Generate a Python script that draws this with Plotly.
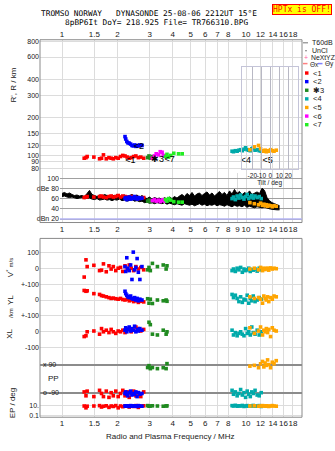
import plotly.graph_objects as go

W, H = 335, 451
def PX(p): return p / W
def PY(p): return 1 - p / H

FONT = "Liberation Sans, Arial, sans-serif"
MONO = "DejaVu Sans Mono, monospace"
GRID = "#DCDCDC"
TXT = "#202020"

# ---------------- axis ticks ----------------
freq_ticks = [1, 1.5, 2, 3, 4, 5, 6, 7, 8, 10, 12, 14, 16, 18]
freq_ticks_mid = [1, 1.5, 2, 3, 4, 5, 6, 7, 8, 9, 10, 12, 14, 16, 18]
rng_ticks = [80, 90, 100, 120, 150, 200, 300, 400, 600, 800]
db_ticks = [100, 80, 60, 40, 20]
db_ticktext = ["100", "dBe 80", "60", "40", "dBn 20"]
tilt_ticks = [-20, -10, 0, 10, 20]

# ---------------- amplitude band (black, T60dB) ----------------
band_f = [1.000, 1.032, 1.065, 1.098, 1.133, 1.169, 1.207, 1.245, 1.285, 1.325,
          1.368, 1.411, 1.456, 1.502, 1.550, 1.599, 1.650, 1.703, 1.757, 1.812,
          1.870, 1.929, 1.991, 2.054, 2.119, 2.187, 2.256, 2.328, 2.402, 2.478,
          2.557, 2.638, 2.722, 2.808, 2.898, 2.990, 3.085, 3.183, 3.284, 3.388,
          3.496, 3.607, 3.721, 3.840, 3.962, 4.087, 4.217, 4.351, 4.490, 4.632,
          4.780, 4.931, 5.088, 5.250, 5.416, 5.588, 5.766, 5.949, 6.138, 6.333,
          6.534, 6.742, 6.956, 7.177, 7.405, 7.640, 7.883, 8.134, 8.392, 8.659,
          8.934, 9.218, 9.511, 9.813, 10.12, 10.45, 10.78, 11.12, 11.48, 11.84,
          12.22, 12.61, 13.01, 13.42, 13.85, 14.29, 14.74, 15.21]
band_hi = [70, 72, 69, 71, 68, 66, 67, 65, 66, 64,
           70, 76, 68, 66, 64, 67, 65, 68, 66, 64,
           67, 65, 68, 66, 63, 67, 64, 66, 68, 65,
           67, 63, 66, 62, 60, 63, 59, 62, 60, 61,
           58, 62, 59, 63, 60, 64, 61, 65, 68, 64,
           70, 66, 72, 65, 69, 71, 66, 70, 73, 67,
           71, 65, 69, 74, 68, 72, 66, 75, 69, 78,
           70, 74, 67, 72, 69, 75, 68, 71, 73, 70,
           80, 76, 62, 56, 52, 50, 48, 46]
band_lo = [64, 65, 63, 62, 63, 61, 60, 61, 62, 60,
           60, 61, 59, 58, 60, 57, 58, 59, 57, 58,
           56, 58, 57, 59, 56, 57, 55, 56, 58, 55,
           56, 54, 55, 52, 53, 51, 52, 50, 52, 51,
           50, 52, 49, 51, 50, 48, 50, 49, 47, 50,
           48, 47, 49, 46, 48, 50, 47, 49, 46, 48,
           47, 49, 46, 48, 47, 45, 48, 46, 44, 47,
           45, 46, 44, 47, 43, 45, 44, 42, 44, 43,
           42, 43, 41, 40, 39, 38, 38, 38]

# ---------------- echo traces ----------------
red_f = [1.32, 1.35, 1.37, 1.49, 1.60, 1.64, 1.68, 1.74, 1.80, 1.85, 1.90, 1.96, 2.02, 2.08, 2.14, 2.20,
         2.26, 2.32, 2.38, 2.45, 2.52, 2.60, 2.68, 2.78]
red_R = [96, 97, 99, 98, 95, 96, 102, 95, 97, 96, 95, 97, 96, 99, 101, 100, 98, 96, 97, 99, 100, 97, 98, 96]
red_dB = [62, 63, 64, 63, 64, 65, 63, 62, 64, 65, 63, 64, 66, 63, 65, 64, 63, 62, 64, 63, 62, 60, 61, 62]
red_V = [-55, 52, 10, 18, -15, -12, 27, -22, 15, -5, 10, -15, 0, 5, -20, 15, -10, 20, 0, -15, 10, -5, 5, -10]
red_YL = [60, 55, 58, 40, 35, 28, 25, 20, 15, 10, 12, 8, 5, 10, 3, 0, 5, -5, 0, -10, -5, -15, -8, -12]
red_XL = [-30, -25, 0, 5, -15, 20, 0, 10, -5, 15, 0, -10, 5, 0, 10, -5, 15, 20, 0, 10, 30, 20, 5, 15]
red_PP = [-85, -110, -80, -115, -75, -95, -115, -80, -120, -90, -110, -80, -115, -95, -75, -110, -85, -120,
          -95, -80, -110, -90, -115, -85]
red_EP = [10, 4, 9, 10, 12, 6, 9, 11, 5, 10, 8, 12, 4, 10, 7, 11, 9, 6, 10, 8, 12, 5, 9, 11]

blue_f = [2.20, 2.22, 2.25, 2.28, 2.32, 2.36, 2.40, 2.44, 2.48, 2.52, 2.56, 2.60, 2.65, 2.72]
blue_R = [142, 136, 130, 127, 126, 124, 121, 120, 122, 119, 121, 120, 122, 121]
blue_dB = [60, 62, 58, 61, 63, 59, 62, 60, 64, 61, 59, 62, 60, 61]
blue_V = [10, -20, 65, 0, -15, 20, -70, 100, -10, 5, 60, -25, -70, 10]
blue_YL = [55, 40, 30, 20, 15, 25, 10, 5, 15, 0, 10, -5, 5, 0]
blue_XL = [10, 25, 0, 15, 30, 5, 20, 10, 35, 0, 15, 5, 20, 10]
blue_PP = [-95, -85, -100, -110, -90, -80, -105, -95, -100, -85, -115, -90, -100, -95]
blue_EP = [10, 9, 11, 10, 8, 12, 10, 9, 11, 10, 8, 12, 10, 9]

dgreen_f = [2.92, 2.97, 3.02, 3.10, 3.30, 3.55, 3.68, 3.72]
dgreen_R = [97, 100, 96, 99, None, None, None, None]
dgreen_dB = [55, 57, 54, 56, None, None, None, None]
dgreen_V = [-10, 5, -15, 30, 10, 20, -5, 15]
dgreen_YL = [8, -20, 5, -22, 0, -5, 0, -8]
dgreen_XL = [80, 60, 45, -15, -20, 10, -15, 0]
dgreen_PP = [71, 83, 64, 71, 64, 70, 64, 96]
dgreen_EP = [12, 9, 10, 11, 10, 9, 10, 11]

teal_f = [8.40, 8.55, 8.75, 8.95, 9.15, 9.35, 9.55, 9.75, 9.95, 10.15, 10.35, 10.55, 10.75, 10.95,
          11.2, 11.5, 11.8, 12.1]
teal_R = [109, 108, 110, 109, 111, 112, 110, 113, 116, 112, 111, 110, 114, 116, 111, 112, 110, 109]
teal_dB = [60, 63, 58, 65, 61, 67, 62, 59, 64, 68, 60, 63, 66, 61, 65, 62, 64, 60]
teal_V = [-15, -5, -20, 0, -10, 5, -25, -5, -15, -10, 0, -20, -8, -12, -5, -18, 0, -10]
teal_YL = [35, 15, 30, 10, -10, 20, -15, 5, 0, 30, -20, 10, -5, 25, -10, 0, 15, 5]
teal_XL = [10, -20, -5, -25, -10, 0, -15, -25, 20, -10, 0, -20, 30, -5, -15, 10, -20, 0]
teal_PP = [-75, -100, -85, -110, -95, -70, -105, -90, -120, -80, -100, -115, -85, -95, -75, -105, -110, -90]
teal_EP = [12, 10, 14, 9, 11, 10, 13, 8, 10, 12, 9, 11, 10, 13, 9, 10, 12, 8]

orange_f = [10.5, 11.1, 11.7, 12.0, 12.3, 12.5, 12.7, 12.9, 13.1, 13.3, 13.6, 13.9, 14.2, 14.6]
orange_R = [112, 118, 121, 114, 110, 109, 111, 108, 110, 109, 112, 110, 109, 111]
orange_dB = [52, 50, 48, 51, 47, 49, 46, 48, 45, 47, 46, 44, 46, 45]
orange_V = [-5, 0, -10, 5, -15, 0, -8, -2, 0, -12, 2, -5, 0, -3]
orange_YL = [20, 10, 15, 5, -20, 25, 10, 0, 20, -10, 15, 5, 25, 20]
orange_XL = [25, -10, 5, 30, -20, 10, 0, 20, -5, 15, -30, 25, 10, 5]
orange_PP = [80, 85, 70, 95, 110, 75, 100, 85, 120, 90, 70, 105, 95, 115]
orange_EP = [10, 11, 9, 10, 12, 10, 9, 11, 10, 8, 10, 12, 10, 9]

magenta_f = [3.10, 3.18, 3.25, 3.35, 3.42, 3.50, 3.55, 3.62]
magenta_R = [96, 100, 104, 102, 108, 107, 101, 100]
magenta_dB = [56, 58, 55, 57, 54, 56, 58, 55]

green_f = [3.65, 3.72, 3.80, 3.90, 4.05, 4.30, 4.50]
green_R = [99, 103, 98, 101, 105, 104, 104]
green_dB = [58, 55, 60, 57, 54, 53, 53]

label_txt = ["<1", "<2", "\u27313", "<7", "<4", "<5"]
label_f = [2.35, 2.62, 3.3, 3.85, 10.0, 13.1]
label_R = [91, 119, 93, 93, 92, 92]

legend_names = ["<1", "<2", "\u27313", "<4", "<5", "<6", "<7"]
legend_colors = ["#FF0000", "#0000FF", "#208A20", "#00AAAA", "#FFA500", "#FF00FF", "#22EE22"]

# ---------------- geometry (pixels) ----------------
F0, DEC = 62, 184          # px of 1 MHz, px per decade
def lf(p): return (p - F0) / DEC
R100, RDEC = 155, 128      # px of 100 km, px per decade
def lr(p): return 2 + (R100 - p) / RDEC
def dbv(p): return 100 - (p - 177.3) / 0.515

fig = go.Figure()

classes = [
    ("#FF0000", red_f, red_R, red_dB, red_V, red_YL, red_XL, red_PP, red_EP),
    ("#0000FF", blue_f, blue_R, blue_dB, blue_V, blue_YL, blue_XL, blue_PP, blue_EP),
    ("#208A20", dgreen_f, dgreen_R, dgreen_dB, dgreen_V, dgreen_YL, dgreen_XL, dgreen_PP, dgreen_EP),
    ("#00AAAA", teal_f, teal_R, teal_dB, teal_V, teal_YL, teal_XL, teal_PP, teal_EP),
    ("#FFA500", orange_f, orange_R, orange_dB, orange_V, orange_YL, orange_XL, orange_PP, orange_EP),
    ("#FF00FF", magenta_f, magenta_R, magenta_dB, None, None, None, None, None),
    ("#22EE22", green_f, green_R, green_dB, None, None, None, None, None),
]

# amplitude band
fig.add_trace(go.Scatter(x=band_f, y=band_lo, xaxis="x3", yaxis="y3", mode="lines",
                         line=dict(color="black", width=1), showlegend=False, hoverinfo="skip"))
fig.add_trace(go.Scatter(x=band_f, y=band_hi, xaxis="x3", yaxis="y3", mode="lines",
                         line=dict(color="black", width=1), fill="tonexty", fillcolor="black",
                         showlegend=False, hoverinfo="skip"))

MK = dict(symbol="square", size=3.6, line=dict(width=0))
lower_axes = ["y4", "y5", "y6", "y7", "y8"]
for col, f, R, dB, V, YL, XL, PP, EP in classes:
    m = dict(MK, color=col)
    fig.add_trace(go.Scatter(x=f, y=R, xaxis="x", yaxis="y", mode="markers", marker=m,
                             showlegend=False, cliponaxis=False))
    fig.add_trace(go.Scatter(x=f, y=dB, xaxis="x3", yaxis="y3", mode="markers", marker=m,
                             showlegend=False, cliponaxis=False))
    if V is not None:
        for ya, vals in zip(lower_axes, [V, YL, XL, PP, EP]):
            fig.add_trace(go.Scatter(x=f, y=vals, xaxis="x2", yaxis=ya, mode="markers", marker=m,
                                     showlegend=False, cliponaxis=False))

# trace labels
fig.add_trace(go.Scatter(x=label_f, y=label_R, xaxis="x", yaxis="y", mode="text", text=label_txt,
                         textfont=dict(size=9, color="black", family=FONT), showlegend=False,
                         cliponaxis=False))
# tilt inset subplot (only its frame/grid)
fig.add_trace(go.Scatter(x=[0], y=[-1], xaxis="x4", yaxis="y9", mode="markers",
                         marker=dict(size=1, color="rgba(0,0,0,0)"), showlegend=False, hoverinfo="skip"))

tf = dict(size=8, family=FONT, color=TXT)
tf7 = dict(size=7, family=FONT, color=TXT)
def fmt(v): return "{:g}".format(v)

xcommon = dict(type="log", showgrid=True, gridcolor=GRID, gridwidth=1, zeroline=False,
               showline=False, ticks="", tickfont=tf, tickangle=0)

layout = dict(
    width=W, height=H, margin=dict(l=0, r=0, t=0, b=0),
    paper_bgcolor="white", plot_bgcolor="rgba(0,0,0,0)", showlegend=False,
    xaxis=dict(xcommon, domain=[PX(40), PX(302)], range=[lf(40), lf(302)], anchor="y", side="top",
               tickvals=freq_ticks, ticktext=[fmt(v) for v in freq_ticks]),
    yaxis=dict(type="log", domain=[PY(172), PY(38)], range=[lr(172), lr(38)], anchor="x",
               tickvals=rng_ticks, ticktext=[fmt(v) for v in rng_ticks], showgrid=True,
               gridcolor=GRID, zeroline=False, ticks="", tickfont=tf7),
    xaxis3=dict(xcommon, domain=[PX(60), PX(302)], range=[lf(60), lf(302)], anchor="y3", side="bottom",
                tickvals=freq_ticks_mid, ticktext=[fmt(v) for v in freq_ticks_mid]),
    yaxis3=dict(domain=[PY(222), PY(172)], range=[dbv(222), dbv(172)], anchor="x3",
                tickvals=db_ticks, ticktext=db_ticktext, showgrid=True, gridcolor="#A0A0A0",
                zeroline=False, ticks="", tickfont=tf7),
    xaxis2=dict(xcommon, domain=[PX(40), PX(302)], range=[lf(40), lf(302)], anchor="y8", side="bottom",
                tickvals=freq_ticks, ticktext=[fmt(v) for v in freq_ticks]),
    yaxis4=dict(domain=[PY(280), PY(238)], range=[(268 - 280) / 0.162, (268 - 238) / 0.162], anchor="x2",
                tickvals=[100, 0], ticktext=["100", "0"], showgrid=True, gridcolor=GRID,
                zeroline=False, ticks="", tickfont=tf7),
    yaxis5=dict(domain=[PY(320), PY(280)], range=[-125, 125], anchor="x2",
                tickvals=[100, 0, -100], ticktext=["+-100", "0", "+-100"], showgrid=True,
                gridcolor=GRID, zeroline=False, ticks="", tickfont=tf7),
    yaxis6=dict(domain=[PY(356), PY(320)], range=[(332 - 356) / 0.16, (332 - 320) / 0.16], anchor="x2",
                tickvals=[0, -100], ticktext=["0", "-100"], showgrid=True, gridcolor=GRID,
                zeroline=False, ticks="", tickfont=tf7),
    yaxis7=dict(domain=[PY(400), PY(356)], range=[90 - (400 - 365) / 0.1572, 90 - (356 - 365) / 0.1572],
                anchor="x2", tickvals=[90, -90], ticktext=["x 90", "o -90"], showgrid=True,
                gridcolor="#8C8C8C", gridwidth=1.5, zeroline=False, ticks="",
                ticklabelposition="inside", tickfont=tf7),
    yaxis8=dict(type="log", domain=[PY(418), PY(400)], range=[1 - (418 - 406.7) / 4.65, 1 - (400 - 406.7) / 4.65],
                anchor="x2", tickvals=[10, 0.1], ticktext=["10.", "0.1"], showgrid=True, gridcolor=GRID,
                zeroline=False, ticks="", tickfont=tf7),
    xaxis4=dict(domain=[PX(241.7), PX(297.7)], range=[-31.8, 30.4], anchor="y9", tickvals=tilt_ticks,
                ticktext=[fmt(v) for v in tilt_ticks], showgrid=True, gridcolor="#B8B8C4",
                zeroline=False, showline=True, mirror=True, linecolor="#C4C4D8", ticks="", tickangle=0,
                tickfont=dict(size=6.5, family=FONT, color=TXT),
                title=dict(text="Tilt / deg", font=dict(size=6.5, family=FONT, color=TXT), standoff=0)),
    yaxis9=dict(domain=[PY(168), PY(65)], range=[0, 1], anchor="x4", showgrid=False, zeroline=False,
                showticklabels=False, showline=True, mirror=True, linecolor="#C4C4D8"),
)
fig.update_layout(**layout)

shapes = []
# panel frames
for t, b in [(38, 222), (238, 418)]:
    shapes.append(dict(type="rect", xref="paper", yref="paper", x0=PX(40), x1=PX(302), y0=PY(b), y1=PY(t),
                       line=dict(color="#8A8A8A", width=1), layer="above"))
# dBn 20 line in lavender
shapes.append(dict(type="line", xref="paper", yref="y3", x0=PX(60), x1=PX(302), y0=20, y1=20,
                   line=dict(color="#B4B4F4", width=1.5), layer="above"))

ann = []
def A(text, x, y, size=8, family=FONT, color=TXT, xanchor="center", angle=0, **kw):
    d = dict(text=text, x=PX(x), y=PY(y), xref="paper", yref="paper", showarrow=False,
             font=dict(size=size, family=family, color=color), xanchor=xanchor, yanchor="middle",
             textangle=angle)
    d.update(kw)
    ann.append(d)

NB = "\u00a0"
A("TROMSO" + NB + "NORWAY" + NB * 3 + "DYNASONDE" + NB + "25-08-06" + NB + "2212UT" + NB + "15\u00b0E",
  149, 11.5, size=7.8, family=MONO, color="black")
A("8pBP6It" + NB + "DoY=" + NB + "218.925" + NB + "File=" + NB + "TR766310.BPG",
  156, 20.8, size=7.8, family=MONO, color="black")
A("HPTx" + NB + "is" + NB + "OFF!", 302, 7.5, size=8, family=MONO, color="#FF0000",
  bgcolor="#FFFF00", bordercolor="#FF0000", borderwidth=1, borderpad=0)

A("R', R / km", 13, 84, size=8, angle=-90)
A("V<sup>*</sup> <span style='font-size:6px'>m/s</span>", 10, 268, size=8, angle=-90)
A("YL", 10, 300, size=8, angle=-90)
A("<span style='font-size:6px'>/km</span>", 11, 313, size=8, angle=-90)
A("XL", 10, 334, size=8, angle=-90)
A("PP", 46, 379, size=8, xanchor="left")
A("EP / deg", 12, 404, size=8, angle=-90)
A("Radio and Plasma Frequency / MHz", 170, 437.5, size=8)

# legend
LF = 7
shapes.append(dict(type="line", xref="paper", yref="paper", x0=PX(303), x1=PX(308), y0=PY(41), y1=PY(41),
                   line=dict(color="#A0A0A0", width=1.5)))
A("T60dB", 309.5, 41, size=LF, xanchor="left")
shapes.append(dict(type="rect", xref="paper", yref="paper", x0=PX(305.5), x1=PX(306.5), y0=PY(49.5),
                   y1=PY(48.5), fillcolor="black", line=dict(width=0)))
A("UnCl", 309.5, 48.7, size=LF, xanchor="left")
A("+", 306, 56, size=7, color="#FF60A0")
A("NeXtYZ", 309, 56, size=6.8, xanchor="left")
shapes.append(dict(type="line", xref="paper", yref="paper", x0=PX(303), x1=PX(307.5), y0=PY(62),
                   y1=PY(62), line=dict(color="#FF8080", width=1.5)))
A("\u0398x", 308, 62.5, size=6.5, xanchor="left")
shapes.append(dict(type="line", xref="paper", yref="paper", x0=PX(318), x1=PX(322.5), y0=PY(62),
                   y1=PY(62), line=dict(color="#8080FF", width=1.5)))
A("\u0398y", 323, 62.5, size=6.5, xanchor="left")
for i, (nm, col) in enumerate(zip(legend_names, legend_colors)):
    yc = 71.5 + i * 8.67
    shapes.append(dict(type="rect", xref="paper", yref="paper", x0=PX(305), x1=PX(308.5),
                       y0=PY(yc + 1.7), y1=PY(yc - 1.7), fillcolor=col, line=dict(width=0)))
    A(nm, 311, yc, size=LF + 0.5, xanchor="left")

fig.update_layout(shapes=shapes, annotations=ann)
fig.write_html("out.html")
